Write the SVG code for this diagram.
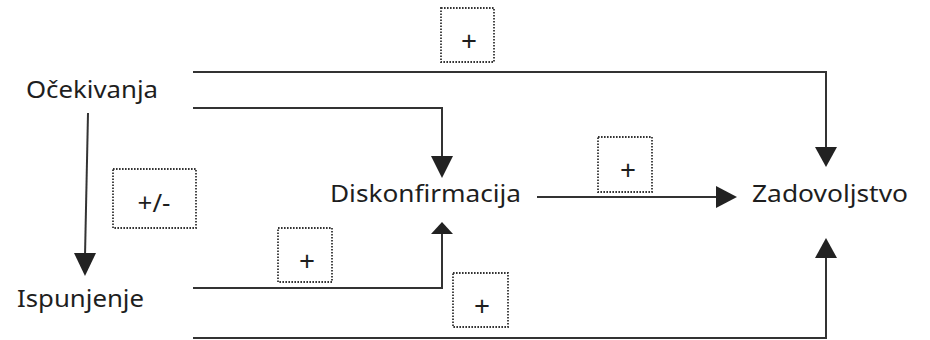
<svg xmlns="http://www.w3.org/2000/svg" width="930" height="340" viewBox="0 0 930 340">
<defs>
<style>
.lbl{font-family:"Noto Sans","Open Sans",sans-serif;font-size:24px;fill:#1e1e1e}
.sgn{font-family:"Noto Sans","Open Sans",sans-serif;font-size:28px;fill:#1e1e1e;text-anchor:middle}
.box{fill:none;stroke:#333;stroke-width:1.8;stroke-dasharray:1.6 1.4}
.con{fill:none;stroke:#333;stroke-width:2}
.head{fill:#222}
</style>
</defs>
<rect width="930" height="340" fill="#fff"/>
<g id="n-ocekivanja"><text class="lbl" x="26" y="98" textLength="132" lengthAdjust="spacingAndGlyphs">Očekivanja</text></g>
<g id="n-ispunjenje"><text class="lbl" x="17" y="307" textLength="127" lengthAdjust="spacingAndGlyphs">Ispunjenje</text></g>
<g id="n-diskonfirmacija"><text class="lbl" x="330" y="202" textLength="191" lengthAdjust="spacingAndGlyphs">Diskonfirmacija</text></g>
<g id="n-zadovoljstvo"><text class="lbl" x="752" y="202" textLength="156" lengthAdjust="spacingAndGlyphs">Zadovoljstvo</text></g>
<g id="connectors">
<line class="con" x1="88" y1="113" x2="85" y2="256"/>
<path class="head" d="M74,253 L96,253 L85,276 Z"/>
<polyline class="con" points="193,72 826,72 826,148"/>
<path class="head" d="M815,147 L837,147 L826,167 Z"/>
<polyline class="con" points="193,108 442,108 442,158"/>
<path class="head" d="M431,156 L453,156 L442,178 Z"/>
<polyline class="con" points="193,288 442,288 442,232"/>
<path class="head" d="M431,234 L453,234 L442,222 Z"/>
<polyline class="con" points="193,338 826,338 826,256"/>
<path class="head" d="M815,258 L837,258 L826,238 Z"/>
<line class="con" x1="537" y1="197" x2="718" y2="197"/>
<path class="head" d="M716,186 L737,197 L716,208 Z"/>
</g>
<g id="s-pm">
<rect class="box" x="113" y="169" width="83" height="59"/>
<text class="sgn" x="154" y="212" style="font-size:26px">+/-</text>
</g>
<g id="s-plus1">
<rect class="box" x="441" y="8" width="53" height="54"/>
<text class="sgn" x="469" y="51">+</text>
</g>
<g id="s-plus2">
<rect class="box" x="598" y="137" width="54" height="55"/>
<text class="sgn" x="628" y="180">+</text>
</g>
<g id="s-plus3">
<rect class="box" x="278" y="228" width="54" height="54"/>
<text class="sgn" x="307" y="271">+</text>
</g>
<g id="s-plus4">
<rect class="box" x="453" y="273" width="55" height="54"/>
<text class="sgn" x="482" y="316">+</text>
</g>
</svg>
